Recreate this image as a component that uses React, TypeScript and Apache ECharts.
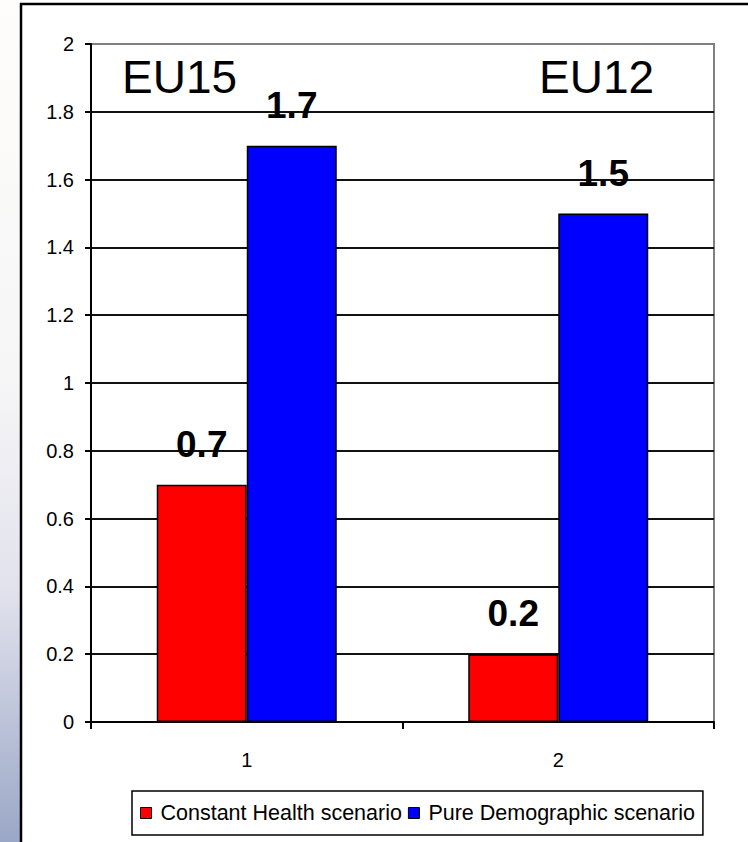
import React, { useEffect, useRef } from "react";
import * as echarts from "echarts";

const categories = ["1", "2"];
const seriesNames = ["Constant Health scenario", "Pure Demographic scenario"];
const constantHealth = [0.7, 0.2];
const pureDemographic = [1.7, 1.5];
const regionLabels = ["EU15", "EU12"];
const yMin = 0;
const yMax = 2;
const yInterval = 0.2;

const FONT = "'Liberation Sans', Arial, Helvetica, sans-serif";

export default function App() {
  const ref = useRef<HTMLDivElement>(null);
  useEffect(() => {
    document.body.style.margin = "0";
    const chart = echarts.init(ref.current!, null, { renderer: "svg" });
    const option = {
      animation: false,
      backgroundColor: "#ffffff",
      textStyle: { fontFamily: FONT },
      graphic: [
        {
          type: "rect",
          z: -10,
          shape: { x: 0, y: 0, width: 20, height: 842 },
          style: {
            fill: new echarts.graphic.LinearGradient(0, 0, 0, 1, [
              { offset: 0, color: "#fefdfb" },
              { offset: 0.45, color: "#f6f6f7" },
              { offset: 0.7, color: "#e2e2ed" },
              { offset: 1, color: "#9aa7c6" },
            ]),
          },
        },
        {
          type: "rect",
          shape: { x: 21, y: 4, width: 800, height: 900 },
          style: { fill: "transparent", stroke: "#000", lineWidth: 2.5 },
        },
        {
          type: "text",
          x: 122,
          y: 77,
          style: {
            text: regionLabels[0],
            font: `46px ${FONT}`,
            fill: "#000",
            verticalAlign: "middle",
          },
        },
        {
          type: "text",
          x: 539,
          y: 77,
          style: {
            text: regionLabels[1],
            font: `46px ${FONT}`,
            fill: "#000",
            verticalAlign: "middle",
          },
        },
      ],
      grid: {
        left: 91,
        right: 34,
        top: 44,
        bottom: 120,
        show: true,
        borderColor: "#808080",
        borderWidth: 2,
        backgroundColor: "transparent",
      },
      legend: {
        data: seriesNames,
        left: 132,
        top: 791,
        orient: "horizontal",
        padding: [11, 8, 11, 8],
        borderColor: "#000",
        borderWidth: 1.5,
        itemWidth: 11,
        itemHeight: 11,
        itemGap: 6,
        icon: "rect",
        itemStyle: { borderColor: "#000", borderWidth: 1 },
        textStyle: { fontSize: 21.5, color: "#000", fontFamily: FONT, padding: [0, 0, 0, 4] },
      },
      xAxis: {
        type: "category",
        data: categories,
        axisLine: { lineStyle: { color: "#000", width: 2 } },
        axisTick: { show: true, alignWithLabel: false, length: 7, lineStyle: { color: "#000", width: 2 } },
        axisLabel: { fontSize: 20, color: "#000", margin: 28, fontFamily: FONT },
        splitLine: { show: false },
      },
      yAxis: {
        type: "value",
        min: yMin,
        max: yMax,
        interval: yInterval,
        axisLine: { show: true, lineStyle: { color: "#000", width: 2 } },
        axisTick: { show: true, length: 6, lineStyle: { color: "#000", width: 2 } },
        axisLabel: {
          fontSize: 20,
          color: "#000",
          margin: 17,
          fontFamily: FONT,
          formatter: (v: number) => String(+v.toFixed(1)),
        },
        splitLine: {
          show: true,
          showMinLine: false,
          showMaxLine: false,
          lineStyle: { color: "#111", width: 2 },
        },
      },
      series: [
        {
          name: seriesNames[0],
          type: "bar",
          data: constantHealth,
          barWidth: 90,
          barGap: "0%",
          itemStyle: { color: "#ff0000", borderColor: "#000", borderWidth: 1.5 },
          label: {
            show: true,
            position: "top",
            distance: 22,
            fontSize: 37,
            fontWeight: "bold",
            color: "#000",
            fontFamily: FONT,
          },
        },
        {
          name: seriesNames[1],
          type: "bar",
          data: pureDemographic,
          barWidth: 90,
          barGap: "0%",
          itemStyle: { color: "#0000ff", borderColor: "#000", borderWidth: 1.5 },
          label: {
            show: true,
            position: "top",
            distance: 22,
            fontSize: 37,
            fontWeight: "bold",
            color: "#000",
            fontFamily: FONT,
          },
        },
      ],
    };
    chart.setOption(option as any);
    return () => chart.dispose();
  }, []);
  return (
    <div
      ref={ref}
      style={{ position: "fixed", left: 0, top: 0, width: 748, height: 842 }}
    />
  );
}
